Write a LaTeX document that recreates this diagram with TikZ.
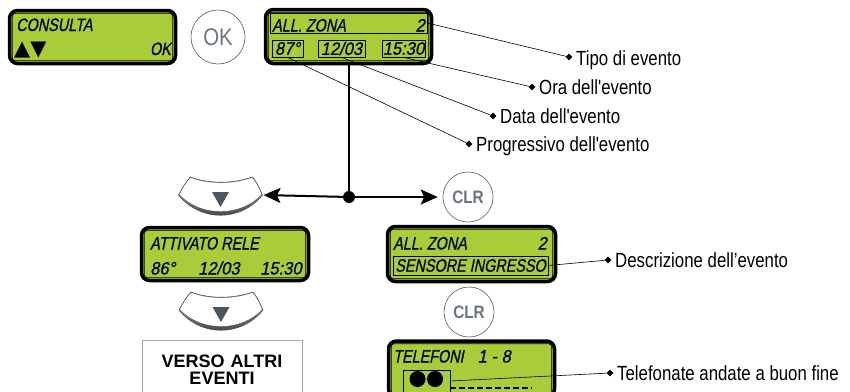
\documentclass[tikz,border=0pt]{standalone}
\usepackage{fontspec}
\usetikzlibrary{shapes.geometric,arrows.meta}
\newfontfamily\lblf[FakeStretch=0.82]{Liberation Sans}
\newfontfamily\lcdf[FakeStretch=0.8,FakeSlant=0.2,FakeBold=0.6]{Liberation Sans}
\newfontfamily\lcdnum[FakeStretch=0.92,FakeSlant=0.2,FakeBold=0.6]{Liberation Sans}
\newfontfamily\btnf[FakeStretch=0.85]{Liberation Sans}
\newfontfamily\boxf{Liberation Sans}
\newfontfamily\symf{DejaVu Sans}
\definecolor{lcdgreen}{RGB}{168,204,58}
\definecolor{btntext}{RGB}{105,117,130}
\definecolor{keytri}{RGB}{75,86,99}
\pgfdeclareradialshading{keyshade}{\pgfpoint{0bp}{0bp}}{color(0bp)=(white); color(34bp)=(white); color(43bp)=(black!18); color(48bp)=(black!45); color(50bp)=(black!60)}
\tikzset{
  lcd/.style={draw=black, line width=3.5pt, fill=lcdgreen, rounded corners=8pt, inner sep=0pt},
  lcdin/.style={draw=black, line width=0.7pt, rounded corners=3pt},
  sub/.style={draw=black, line width=0.7pt, inner sep=0pt, font=\lcdnum\fontsize{18}{18}\selectfont},
  lcdtxt/.style={inner sep=0pt, font=\lcdf\fontsize{18}{18}\selectfont},
  lcdnumtxt/.style={inner sep=0pt, font=\lcdnum\fontsize{18}{18}\selectfont},
  rkey/.style={circle, draw=gray!70!black, line width=0.6pt, inner sep=0pt, minimum size=50pt, shading=keyshade, text=btntext},
  dmd/.style={diamond, fill=black, inner sep=0pt, minimum size=7pt},
  lbl/.style={inner sep=0pt, anchor=base west, font=\lblf\fontsize{20.5}{22}\selectfont},
  leader/.style={draw=black, line width=0.6pt},
  flow/.style={line width=2pt},
  flowtip/.style={-{Stealth[length=17pt,width=15pt,inset=3.5pt]}},
  downkey/.pic={
    \shade[top color=black!25, bottom color=black!80] (-42,-1) .. controls (-38,-8) and (-35,-14) .. (-30,-19) .. controls (-12,-12) and (12,-12) .. (32,-19) .. controls (36,-14) and (39,-8) .. (42,-1) .. controls (20,26) and (-20,26) .. cycle;
    \path[fill=white] (-41,-1.8) .. controls (-37.3,-8.5) and (-34.3,-14) .. (-29.5,-18) .. controls (-12,-11.2) and (12,-11.2) .. (31.5,-18) .. controls (35.3,-14) and (38.3,-8.5) .. (41,-1.8) .. controls (19.5,21) and (-19.5,21) .. cycle;
    \draw[black!70, line width=0.6pt] (-42,-1) .. controls (-38,-8) and (-35,-14) .. (-30,-19) .. controls (-12,-12) and (12,-12) .. (32,-19) .. controls (36,-14) and (39,-8) .. (42,-1) .. controls (20,26) and (-20,26) .. cycle;
    \fill[keytri] (-8.5,-4) -- (8.5,-4) -- (0,11) -- cycle;
    \coordinate (-tip) at (42,-1);
  }
}
\begin{document}
\begin{tikzpicture}[x=1pt,y=-1pt]
\useasboundingbox (0,0) rectangle (850,391);

% ---------- LCD 1 : CONSULTA ----------
\node[lcd, minimum width=166pt, minimum height=53pt] (lcd1) at (92.5,37) {};
\draw[lcdin] ([shift={(4.5,4.5)}]lcd1.north west) rectangle ([shift={(-4.5,-4.5)}]lcd1.south east);
\node[lcdtxt, anchor=base west] (t1a) at (16,31) {CONSULTA};
\node[inner sep=0pt, anchor=base west, font=\symf\fontsize{21}{21}\selectfont] (t1b) at (14,55.5) {▲▼};
\node[lcdtxt, anchor=base east] (t1c) at (171,55) {OK};

% ---------- OK key ----------
\node[rkey, minimum size=54pt, font=\btnf\fontsize{24}{24}\selectfont] (okk) at (218,37) {OK};

% ---------- LCD 2 : ALL. ZONA ----------
\node[lcd, minimum width=166pt, minimum height=54pt] (lcd2) at (348.5,36.5) {};
\draw[lcdin] ([shift={(4.5,4.5)}]lcd2.north west) rectangle ([shift={(-4.5,-4.5)}]lcd2.south east);
\node[sub, minimum width=157pt, minimum height=20pt] (btop) at (348.5,23) {};
\node[lcdtxt, anchor=base west] (t2a) at (272,31.5) {ALL. ZONA};
\node[lcdnumtxt, anchor=base east] (t2b) at (425,31.5) {2};
\node[sub, minimum width=31pt, minimum height=17pt] (b87) at (287.5,48.5) {87°};
\node[sub, minimum width=47pt, minimum height=17pt] (b1203) at (341.5,48.5) {12/03};
\node[sub, minimum width=43pt, minimum height=17pt] (b1530) at (403.5,48.5) {15:30};

% ---------- labels for LCD 2 ----------
\node[dmd] (dTipo) at (569,57) {};
\node[lbl] (tTipo) at (576,65) {Tipo di evento};
\node[dmd] (dOra) at (532,87) {};
\node[lbl] (tOra) at (539,94) {Ora dell'evento};
\node[dmd] (dData) at (493,116) {};
\node[lbl] (tData) at (500,123) {Data dell'evento};
\node[dmd] (dProg) at (469,144) {};
\node[lbl] (tProg) at (476,151) {Progressivo dell'evento};
\draw[leader] (btop.east) -- (dTipo);
\draw[leader] (b1530.south) -- (dOra);
\draw[leader] (b1203.south) -- (dData);
\draw[leader] (b87.south) -- (dProg);

% ---------- branching ----------
\node[circle, fill=black, inner sep=0pt, minimum size=12pt] (j) at (349,197) {};
\pic (dk1) at (220.5,196) {downkey};
\node[rkey, font=\btnf\bfseries\fontsize{18}{18}\selectfont] (clr1) at (468,197) {CLR};
\draw[flow] (lcd2.south -| j) -- (j);
\draw[flow, flowtip, shorten >=1pt] (j) -- (dk1-tip);
\draw[flow, flowtip, shorten >=5pt] (j) -- (clr1);

% ---------- LCD 3 : ATTIVATO RELE ----------
\node[lcd, minimum width=167pt, minimum height=53pt] (lcd3) at (225,254) {};
\draw[lcdin] ([shift={(4.5,4.5)}]lcd3.north west) rectangle ([shift={(-4.5,-4.5)}]lcd3.south east);
\node[lcdtxt, anchor=base west] (t3a) at (150,249.5) {ATTIVATO RELE};
\node[lcdnumtxt, anchor=base west] (t3b) at (150,274.5) {86°};
\node[lcdnumtxt, anchor=base west] (t3c) at (198,274.5) {12/03};
\node[lcdnumtxt, anchor=base west] (t3d) at (260,274.5) {15:30};

% ---------- LCD 4 : SENSORE INGRESSO ----------
\node[lcd, minimum width=168pt, minimum height=55pt] (lcd4) at (471.5,254) {};
\draw[lcdin] ([shift={(4.5,4.5)}]lcd4.north west) rectangle ([shift={(-4.5,-4.5)}]lcd4.south east);
\node[lcdtxt, anchor=base west] (t4a) at (393,249.5) {ALL. ZONA};
\node[lcdnumtxt, anchor=base east] (t4b) at (547,249.5) {2};
\node[sub, font=\lcdf\fontsize{18}{18}\selectfont, minimum width=155pt, minimum height=19pt] (bsens) at (470.5,265.5) {SENSORE INGRESSO};
\node[dmd] (dDesc) at (608,260) {};
\node[lbl] (tDesc) at (615,267) {Descrizione dell’evento};
\draw[leader] (bsens.east) -- (dDesc);

% ---------- second keys ----------
\pic (dk2) at (221,311) {downkey};
\node[rkey, font=\btnf\bfseries\fontsize{18}{18}\selectfont] (clr2) at (469,312) {CLR};

% ---------- VERSO ALTRI EVENTI ----------
\node[draw=gray!70, line width=0.6pt, anchor=north, inner xsep=0pt, inner ysep=15pt, minimum width=160pt, text width=160pt, align=center, font=\boxf\bfseries\fontsize{18}{17}\selectfont] (verso) at (222,340) {VERSO ALTRI\\EVENTI};

% ---------- LCD 5 : TELEFONI ----------
\node[lcd, minimum width=166pt, minimum height=56pt] (lcd5) at (471.5,369) {};
\draw[lcdin] ([shift={(4.5,4.5)}]lcd5.north west) rectangle ([shift={(-4.5,-4.5)}]lcd5.south east);
\node[lcdtxt, anchor=base west] (t5a) at (393,362.5) {TELEFONI\hspace{14pt}\lcdnum 1 - 8};
\node[sub, minimum width=47pt, minimum height=22pt] (bdots) at (426.5,381) {};
\fill (417.5,379) circle (8);
\fill (435,379) circle (8);
\draw[line width=2pt, dash pattern=on 6pt off 3pt] (bdots.south east |- 0,388) -- (532,388);
\node[dmd] (dTel) at (610,373) {};
\node[lbl] (tTel) at (617,380) {Telefonate andate a buon fine};
\draw[leader] (bdots.east) -- (dTel);
\end{tikzpicture}
\end{document}
